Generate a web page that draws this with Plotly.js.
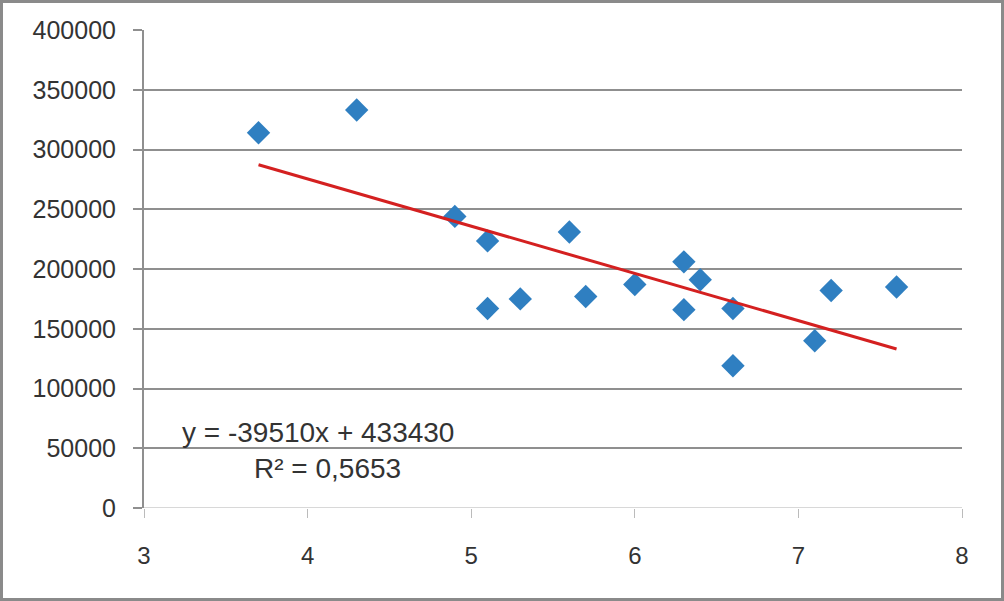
<!DOCTYPE html>
<html>
<head>
<meta charset="utf-8">
<script src="https://cdn.plot.ly/plotly-3.0.1.min.js"></script>
<style>
  body { margin: 0; background: #fff; }
  #myDiv { width: 998px; height: 595px; border: 3px solid #8a8a8a; }
</style>
</head>
<body>
<div id="myDiv"></div>
<script>
const xVals = [3.7, 4.3, 4.9, 5.1, 5.1, 5.3, 5.6, 5.7, 6.0, 6.3, 6.3, 6.4, 6.6, 6.6, 7.1, 7.2, 7.6]
const yVals = [314000, 333000, 244000, 223500, 167000, 175000, 231000, 177000, 187000, 206000, 166000, 191000, 167000, 119000, 140000, 182000, 185000]

// trendline endpoints as drawn
const trendX = [3.7, 7.6]
const trendY = [287200, 133100]

const yTicks = [0, 50000, 100000, 150000, 200000, 250000, 300000, 350000, 400000]
const xTicks = [3, 4, 5, 6, 7, 8]

const eqText = "y = -39510x + 433430"
const r2Text = "R² = 0,5653"

const font = { family: "Liberation Sans, Arial, sans-serif", size: 24, color: "#333" }

const trace1 = {
  x: xVals,
  y: yVals,
  mode: "markers",
  type: "scatter",
  marker: { symbol: "diamond", size: 18, color: "#2f7fc1" },
}
const trace2 = {
  x: trendX,
  y: trendY,
  mode: "lines",
  type: "scatter",
  line: { color: "#d42020", width: 3 },
}

const layout = {
  width: 998,
  height: 595,
  showlegend: false,
  paper_bgcolor: "#fff",
  plot_bgcolor: "#fff",
  margin: { l: 141, r: 39, t: 27, b: 90 },
  font: font,
  xaxis: {
    range: [3, 8],
    tickvals: xTicks,
    ticktext: xTicks.map(String),
    showgrid: false,
    zeroline: false,
    showline: false,
    ticks: "outside",
    ticklen: 9,
    tickcolor: "#bbb",
    tickwidth: 1,
    ticklabelstandoff: 17,
    tickfont: { family: font.family, size: 24, color: "#333" },
  },
  yaxis: {
    range: [0, 400000],
    tickvals: yTicks,
    ticktext: yTicks.map(String),
    showgrid: true,
    gridcolor: "#8f8f8f",
    gridwidth: 2,
    zeroline: false,
    showline: true,
    linecolor: "#8f8f8f",
    linewidth: 2,
    ticks: "outside",
    ticklen: 9,
    tickcolor: "#8f8f8f",
    tickwidth: 2,
    ticklabelstandoff: 12,
    tickfont: { family: font.family, size: 25, color: "#333" },
  },
  shapes: [
    { type: "line", xref: "paper", yref: "y", x0: 0, x1: 1, y0: 0, y1: 0, line: { color: "#d8d8d8", width: 2 } },
  ],
  annotations: [
    { x: 3.22, y: 63000, xref: "x", yref: "y", xanchor: "left", text: eqText, showarrow: false, font: { family: font.family, size: 28, color: "#333" } },
    { x: 4.12, y: 33000, xref: "x", yref: "y", xanchor: "center", text: r2Text, showarrow: false, font: { family: font.family, size: 28, color: "#333" } },
  ],
}

Plotly.newPlot("myDiv", [trace1, trace2], layout, { displayModeBar: false })
</script>
</body>
</html>
